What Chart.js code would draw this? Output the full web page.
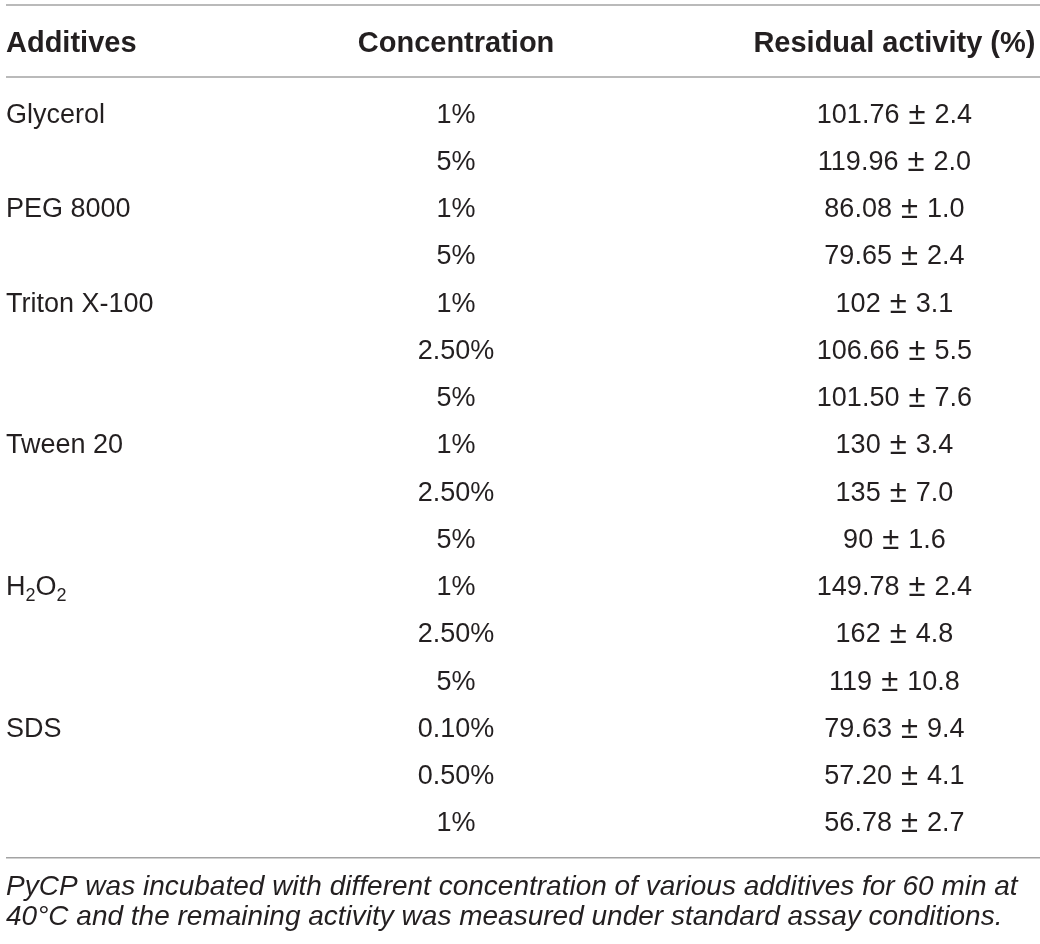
<!DOCTYPE html>
<html>
<head>
<meta charset="utf-8">
<script src="https://cdn.jsdelivr.net/npm/chart.js@4"></script>
<style>
  body { margin: 0; background: #fff; }
</style>
</head>
<body>
<canvas id="myChart" width="1040" height="944"></canvas>
<script>
// table data
const headers = ['Additives', 'Concentration', 'Residual activity (%)'];
const additives = ['Glycerol', '', 'PEG 8000', '', 'Triton X-100', '', '', 'Tween 20', '', '', 'H_2O_2', '', '', 'SDS', '', ''];
const concentrations = ['1%', '5%', '1%', '5%', '1%', '2.50%', '5%', '1%', '2.50%', '5%', '1%', '2.50%', '5%', '0.10%', '0.50%', '1%'];
const residualMean = ['101.76', '119.96', '86.08', '79.65', '102', '106.66', '101.50', '130', '135', '90', '149.78', '162', '119', '79.63', '57.20', '56.78'];
const residualSd = ['2.4', '2.0', '1.0', '2.4', '3.1', '5.5', '7.6', '3.4', '7.0', '1.6', '2.4', '4.8', '10.8', '9.4', '4.1', '2.7'];
const footnote = [
    'PyCP was incubated with different concentration of various additives for 60 min at',
    '40\u00B0C and the remaining activity was measured under standard assay conditions.'
];

const FONT = '"Liberation Sans", Arial, Helvetica, sans-serif';
const textColor = '#231f20';
const ruleColor = '#a3a3a3';

// draws "H_2O_2" style text, digits after "_" as subscripts
function drawRich(ctx, str, x, y, size) {
    const parts = str.split(/(_\d)/);
    let cx = x;
    for (let p of parts) {
        if (!p) continue;
        if (p[0] === '_') {
            ctx.font = `${Math.round(size * 0.68)}px ${FONT}`;
            ctx.fillText(p.slice(1), cx, y + size * 0.22);
            cx += ctx.measureText(p.slice(1)).width;
        } else {
            ctx.font = `${size}px ${FONT}`;
            ctx.fillText(p, cx, y);
            cx += ctx.measureText(p).width;
        }
    }
}

// "mean ± sd", centred on x, with a wider plus-minus sign
function drawMeanSd(ctx, mean, sd, x, y, size) {
    const gap = 9;
    ctx.font = `${size}px ${FONT}`;
    const wm = ctx.measureText(mean).width;
    const ws = ctx.measureText(sd).width;
    ctx.font = `${size + 4}px ${FONT}`;
    const wp = ctx.measureText('\u00B1').width;
    let cx = x - (wm + ws + wp + 2 * gap) / 2;
    ctx.textAlign = 'left';
    ctx.font = `${size}px ${FONT}`;
    ctx.fillText(mean, cx, y);
    cx += wm + gap;
    ctx.font = `${size + 4}px ${FONT}`;
    ctx.fillText('\u00B1', cx, y + 1);
    cx += wp + gap;
    ctx.font = `${size}px ${FONT}`;
    ctx.fillText(sd, cx, y);
}

const tablePlugin = {
    id: 'tablePlugin',
    afterDraw(chart) {
        const ctx = chart.ctx;
        const area = chart.chartArea;
        const yScale = chart.scales.y;
        const n = concentrations.length;
        const y0 = yScale.getPixelForValue(0);
        const yN = yScale.getPixelForValue(n - 1);
        const step = (yN - y0) / (n - 1);
        const W = chart.width;
        const colLeft = area.left + 6;
        const colMid = W * 0.4385;
        const colRight = W * 0.86;
        const size = 27;

        ctx.save();
        // rules
        ctx.strokeStyle = ruleColor;
        ctx.lineWidth = 1.5;
        const rules = [y0 - 2.275 * step, y0 - 0.75 * step, yN + 0.77 * step];
        for (let r of rules) {
            ctx.beginPath();
            ctx.moveTo(colLeft, r);
            ctx.lineTo(W, r);
            ctx.stroke();
        }

        // header
        ctx.fillStyle = textColor;
        ctx.textBaseline = 'alphabetic';
        ctx.font = `bold 29px ${FONT}`;
        const hy = y0 - 1.49 * step + 10;
        ctx.textAlign = 'left';
        ctx.fillText(headers[0], colLeft, hy);
        ctx.textAlign = 'center';
        ctx.fillText(headers[1], colMid, hy);
        ctx.fillText(headers[2], colRight, hy);

        // rows
        for (let i = 0; i < n; i++) {
            const by = yScale.getPixelForValue(i) + 10;
            ctx.textAlign = 'left';
            drawRich(ctx, additives[i], colLeft, by, size);
            ctx.font = `${size}px ${FONT}`;
            ctx.textAlign = 'center';
            ctx.fillText(concentrations[i], colMid, by);
            drawMeanSd(ctx, residualMean[i], residualSd[i], colRight, by, size);
        }

        // footnote
        ctx.font = `italic 28px ${FONT}`;
        ctx.textAlign = 'left';
        footnote.forEach((line, k) => {
            ctx.fillText(line, colLeft, yN + (1.56 + 0.635 * k) * step);
        });
        ctx.restore();
    }
};

const ctx = document.getElementById('myChart');
new Chart(ctx, {
    type: 'bar',
    data: {
        labels: concentrations.map((c, i) => i),
        datasets: [{
            label: 'Residual activity (%)',
            data: residualMean.map(Number),
            backgroundColor: 'rgba(0,0,0,0)',
            borderWidth: 0
        }]
    },
    options: {
        responsive: false,
        animation: false,
        indexAxis: 'y',
        layout: { padding: { top: 88.9, bottom: 99, left: 0, right: 0 } },
        plugins: { legend: { display: false }, tooltip: { enabled: false } },
        scales: {
            x: { display: false, min: 0 },
            y: { display: false, offset: true }
        }
    },
    plugins: [tablePlugin]
});
</script>
</body>
</html>
